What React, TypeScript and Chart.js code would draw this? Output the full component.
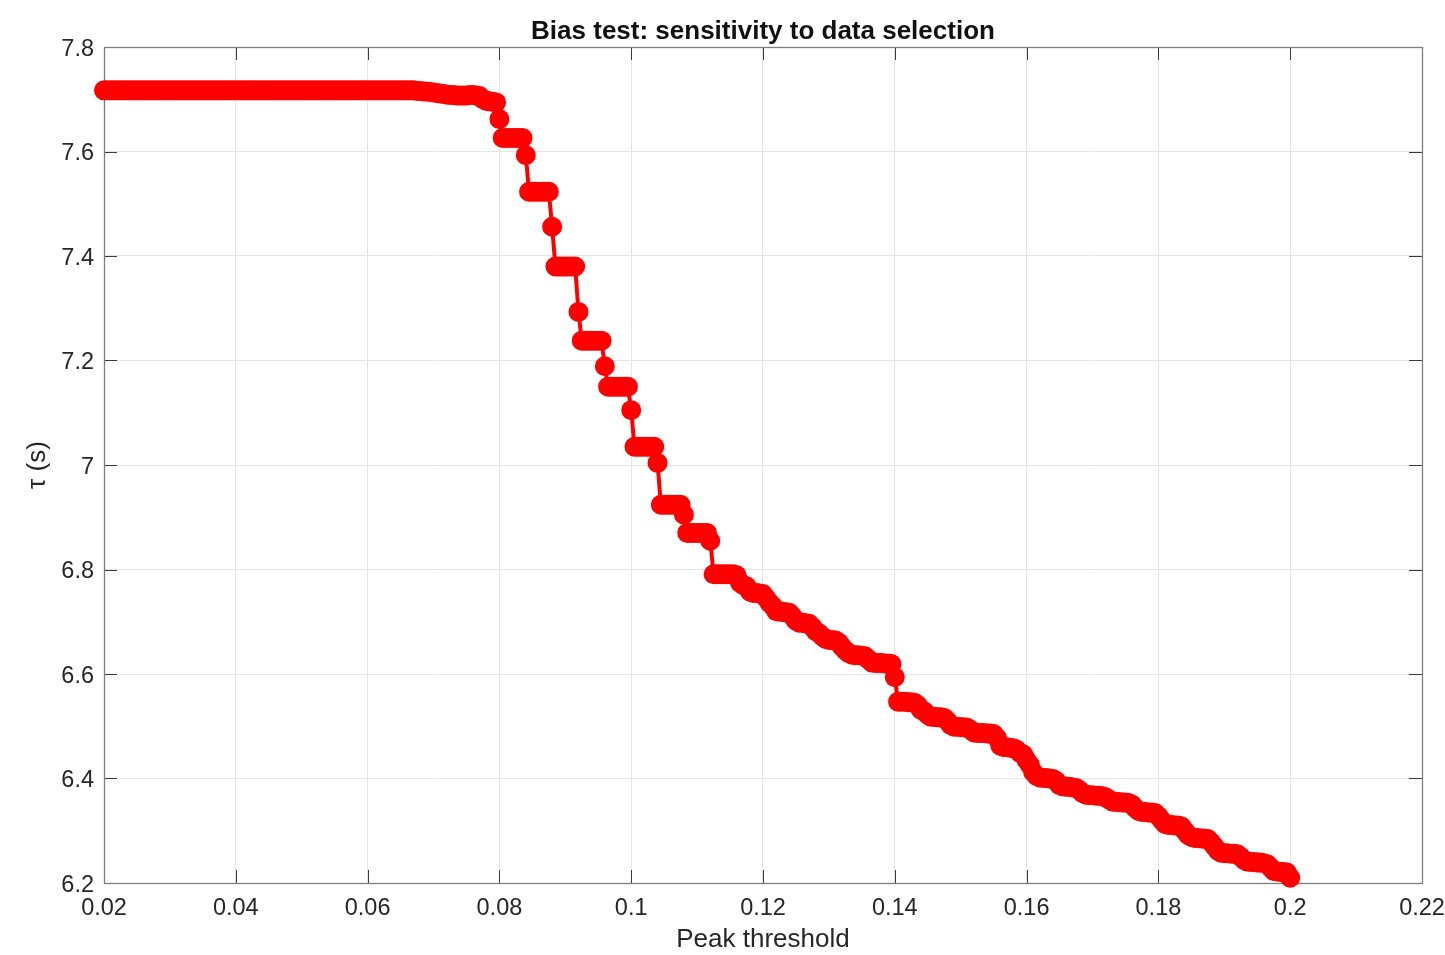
import React, { useEffect, useRef } from 'react';
import { Chart, registerables } from 'chart.js';

Chart.register(...registerables);

const TITLE = 'Bias test: sensitivity to data selection';
const X_LABEL = 'Peak threshold';
const Y_LABEL = 'τ (s)';

const X_TICKS = [0.02, 0.04, 0.06, 0.08, 0.1, 0.12, 0.14, 0.16, 0.18, 0.2, 0.22];
const Y_TICKS = [6.2, 6.4, 6.6, 6.8, 7.0, 7.2, 7.4, 7.6, 7.8];

// threshold grid: 0.02 : 0.0005 : 0.2
const THRESHOLD_START = 0.02;
const THRESHOLD_STEP = 0.0005;

// tau values, 0.0200 .. 0.0670
const TAU_PLATEAU = [
  7.717, 7.717, 7.717, 7.717, 7.717, 7.717, 7.717, 7.717, 7.717, 7.717,
  7.717, 7.717, 7.717, 7.717, 7.717, 7.717, 7.717, 7.717, 7.717, 7.717,
  7.717, 7.717, 7.717, 7.717, 7.717, 7.717, 7.717, 7.717, 7.717, 7.717,
  7.717, 7.717, 7.717, 7.717, 7.717, 7.717, 7.717, 7.717, 7.717, 7.717,
  7.717, 7.717, 7.717, 7.717, 7.717, 7.717, 7.717, 7.717, 7.717, 7.717,
  7.717, 7.717, 7.717, 7.717, 7.717, 7.717, 7.717, 7.717, 7.717, 7.717,
  7.717, 7.717, 7.717, 7.717, 7.717, 7.717, 7.717, 7.717, 7.717, 7.717,
  7.717, 7.717, 7.717, 7.717, 7.717, 7.717, 7.717, 7.717, 7.717, 7.717,
  7.717, 7.717, 7.717, 7.717, 7.717, 7.717, 7.717, 7.717, 7.717, 7.717,
  7.717, 7.717, 7.717, 7.717, 7.717,
];

// 0.0675 .. 0.0800
const TAU_KNEE = [
  7.716, 7.716, 7.715, 7.715, 7.714, 7.713, 7.712, 7.711, 7.710, 7.709,
  7.708, 7.708, 7.707, 7.707, 7.707, 7.707, 7.708, 7.708, 7.707, 7.706,
  7.700, 7.697, 7.696, 7.695, 7.694, 7.662,
];

// 0.0805 .. 0.1155
const TAU_STEEP = [
  7.626, 7.626, 7.626, 7.626, 7.626, 7.626, 7.626, 7.593,
  7.523, 7.523, 7.523, 7.523, 7.523, 7.523, 7.523, 7.456,
  7.380, 7.380, 7.380, 7.380, 7.380, 7.380, 7.380, 7.293,
  7.238, 7.238, 7.238, 7.238, 7.238, 7.238, 7.238, 7.189,
  7.150, 7.150, 7.150, 7.150, 7.150, 7.150, 7.150, 7.105,
  7.035, 7.035, 7.035, 7.035, 7.035, 7.035, 7.035, 7.004,
  6.924, 6.924, 6.924, 6.924, 6.924, 6.924, 6.924, 6.905,
  6.870, 6.870, 6.870, 6.870, 6.870, 6.870, 6.870, 6.855,
  6.791, 6.791, 6.791, 6.791, 6.791, 6.791, 6.791,
];

// 0.1160 .. 0.2000
const TAU_TAIL = [
  6.789, 6.775, 6.770, 6.768, 6.758, 6.755, 6.755, 6.754,
  6.753, 6.745, 6.736, 6.730, 6.720, 6.719, 6.719, 6.718, 6.717, 6.710,
  6.702, 6.698, 6.698, 6.697, 6.696, 6.690, 6.682, 6.678, 6.672, 6.667,
  6.665, 6.665, 6.664, 6.660, 6.652, 6.645, 6.640, 6.637, 6.636, 6.636,
  6.635, 6.634, 6.628, 6.622, 6.621, 6.621, 6.621, 6.620, 6.620, 6.619,
  6.594, 6.547, 6.547, 6.547, 6.546, 6.546, 6.545, 6.540, 6.531, 6.528,
  6.522, 6.518, 6.518, 6.517, 6.517, 6.516, 6.510, 6.502, 6.499, 6.499,
  6.498, 6.498, 6.497, 6.493, 6.488, 6.487, 6.487, 6.487, 6.486, 6.486,
  6.485, 6.478, 6.463, 6.460, 6.460, 6.459, 6.458, 6.455, 6.449, 6.446,
  6.435, 6.426, 6.412, 6.405, 6.402, 6.401, 6.401, 6.400, 6.399, 6.395,
  6.387, 6.385, 6.384, 6.384, 6.383, 6.382, 6.378, 6.372, 6.369, 6.368,
  6.368, 6.367, 6.367, 6.366, 6.364, 6.360, 6.356, 6.355, 6.355, 6.354,
  6.354, 6.353, 6.350, 6.343, 6.338, 6.336, 6.336, 6.335, 6.335, 6.334,
  6.328, 6.320, 6.313, 6.311, 6.311, 6.310, 6.310, 6.308, 6.300, 6.292,
  6.288, 6.286, 6.286, 6.285, 6.285, 6.284, 6.278, 6.270, 6.262, 6.258,
  6.257, 6.257, 6.256, 6.256, 6.255, 6.250, 6.244, 6.241, 6.240, 6.240,
  6.239, 6.239, 6.238, 6.236, 6.230, 6.223, 6.222, 6.221, 6.221, 6.220,
  6.210,
];

const TAU = [...TAU_PLATEAU, ...TAU_KNEE, ...TAU_STEEP, ...TAU_TAIL];

const FONT = '"Liberation Sans", Arial, Helvetica, sans-serif';
const TEXT_COLOR = '#262626';
const TICK_LEN = 13;

const fmt = (v: number | string) => String(Number(Number(v).toFixed(2)));

const matlabAxes = {
  id: 'matlabAxes',
  beforeDatasetsDraw(chart: any) {
    const { ctx, chartArea } = chart;
    const { left, right, top, bottom } = chartArea;
    const xs = chart.scales.x;
    const ys = chart.scales.y;
    ctx.save();
    ctx.strokeStyle = '#3a3a3a';
    ctx.lineWidth = 1;
    ctx.beginPath();
    X_TICKS.forEach((v) => {
      const px = Math.round(xs.getPixelForValue(v)) + 0.5;
      ctx.moveTo(px, bottom);
      ctx.lineTo(px, bottom - TICK_LEN);
      ctx.moveTo(px, top);
      ctx.lineTo(px, top + TICK_LEN);
    });
    Y_TICKS.forEach((v) => {
      const py = Math.round(ys.getPixelForValue(v)) + 0.5;
      ctx.moveTo(left, py);
      ctx.lineTo(left + TICK_LEN, py);
      ctx.moveTo(right, py);
      ctx.lineTo(right - TICK_LEN, py);
    });
    ctx.stroke();
    ctx.strokeStyle = '#7d7d7d';
    ctx.lineWidth = 1.3;
    ctx.strokeRect(Math.round(left) + 0.5, Math.round(top) + 0.5, Math.round(right - left), Math.round(bottom - top));
    ctx.restore();
  },
};

export default function App() {
  const canvasRef = useRef<HTMLCanvasElement | null>(null);

  useEffect(() => {
    const canvas = canvasRef.current;
    if (!canvas) return;
    const points = TAU.map((y, i) => ({ x: THRESHOLD_START + i * THRESHOLD_STEP, y }));
    const chart = new Chart(canvas, {
      type: 'line',
      data: {
        datasets: [
          {
            data: points,
            borderColor: '#ff0000',
            backgroundColor: '#ff0000',
            borderWidth: 4,
            pointRadius: 9,
            pointBorderWidth: 2,
            pointBackgroundColor: '#ff0000',
            pointBorderColor: '#ff0000',
            pointHoverRadius: 9,
            tension: 0,
            fill: false,
            clip: false as any,
          },
        ],
      },
      options: {
        responsive: false,
        animation: false,
        events: [],
        layout: { padding: { left: 0, right: 23, top: 0, bottom: 0 } },
        plugins: {
          legend: { display: false },
          tooltip: { enabled: false },
          title: {
            display: true,
            text: TITLE,
            fullSize: false,
            color: '#111111',
            font: { family: FONT, size: 26, weight: 'bold', lineHeight: 1.15 },
            padding: { top: 17, bottom: 0.1 },
          },
        },
        scales: {
          x: {
            type: 'linear',
            min: 0.02,
            max: 0.22,
            afterBuildTicks: (s: any) => {
              s.ticks = X_TICKS.map((v) => ({ value: v }));
            },
            afterFit: (s: any) => {
              s.height = 72;
              s.paddingLeft = 0;
              s.paddingRight = 0;
            },
            ticks: {
              callback: (v: any) => fmt(v),
              color: TEXT_COLOR,
              font: { family: FONT, size: 23.5 },
              padding: 11,
              maxRotation: 0,
              autoSkip: false,
            },
            grid: { color: '#e4e4e4', lineWidth: 1, drawTicks: false },
            border: { display: false },
            title: {
              display: true,
              text: X_LABEL,
              color: TEXT_COLOR,
              font: { family: FONT, size: 26 },
              padding: { top: 0, bottom: 0 },
            },
          },
          y: {
            type: 'linear',
            min: 6.2,
            max: 7.8,
            afterBuildTicks: (s: any) => {
              s.ticks = Y_TICKS.map((v) => ({ value: v }));
            },
            afterFit: (s: any) => {
              s.width = 104;
              s.paddingTop = 0;
              s.paddingBottom = 0;
            },
            ticks: {
              callback: (v: any) => String(Number(Number(v).toFixed(1))),
              color: TEXT_COLOR,
              font: { family: FONT, size: 23.5 },
              padding: 10,
              labelOffset: 2.5,
              autoSkip: false,
            },
            grid: { color: '#e4e4e4', lineWidth: 1, drawTicks: false },
            border: { display: false },
            title: {
              display: true,
              text: Y_LABEL,
              color: TEXT_COLOR,
              font: { family: FONT, size: 26 },
              padding: { top: 22.4, bottom: 0 },
            },
          },
        },
      },
      plugins: [matlabAxes],
    } as any);
    return () => chart.destroy();
  }, []);

  return (
    <div style={{ position: 'absolute', left: 0, top: 0, width: 1445, height: 955, background: '#ffffff' }}>
      <canvas ref={canvasRef} width={1445} height={955} style={{ display: 'block' }} />
    </div>
  );
}
